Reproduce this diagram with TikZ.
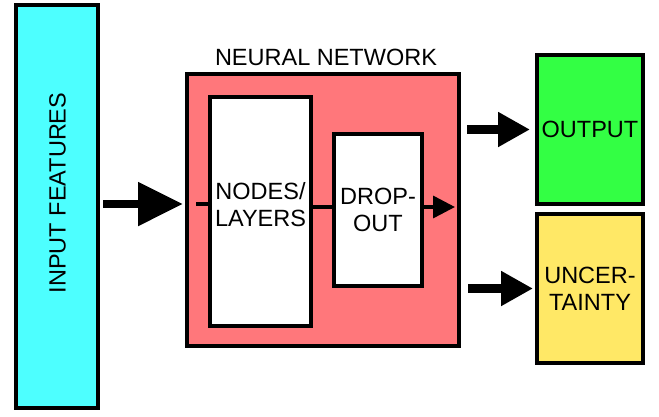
\documentclass[tikz,border=0pt]{standalone}
\usepackage{fontspec}
\setmainfont{Liberation Sans}
\usetikzlibrary{arrows.meta}
\definecolor{featcyan}{HTML}{4DFFFF}
\definecolor{netred}{HTML}{FF777B}
\definecolor{outgreen}{HTML}{33FF44}
\definecolor{uncyellow}{HTML}{FFE866}
\tikzset{block/.style = {draw, line width=4pt, rectangle, align=center, inner sep=0pt},
         txt/.style = {align=center, inner sep=0pt},
         fat/.style = {line width=8.5pt, -{Triangle[length=45pt,width=42pt]}},
         mid/.style = {line width=8.5pt, -{Triangle[length=32pt,width=33pt]}},
         link/.style = {line width=3.5pt}}

\begin{document}
\begin{tikzpicture}[x=1pt,y=-1pt,font=\fontsize{23.5}{27}\selectfont]
    \useasboundingbox (0,0) rectangle (659,416);
    \node[block, fill=featcyan, minimum width=82pt, minimum height=403pt](feat)at(57,206.5){};
    \node[txt, rotate=90](featlbl)at(57.5,193){INPUT FEATURES};
    \node[block, fill=netred, minimum width=272pt, minimum height=272pt](net)at(323,210){};
    \node[txt, anchor=base](netlbl)at(326,65){NEURAL NETWORK};
    \node[block, fill=white, minimum width=101pt, minimum height=229pt](lay)at(260.5,211.5){};
    \node[txt](laylbl)at(260.5,205){NODES/\\LAYERS};
    \node[block, fill=white, minimum width=88pt, minimum height=152pt](drop)at(378,210){DROP-\\OUT};
    \node[block, fill=outgreen, minimum width=106pt, minimum height=149pt](out)at(590,129.5){OUTPUT};
    \node[block, fill=uncyellow, minimum width=106pt, minimum height=149pt](unc)at(590,288.5){UNCER-\\TAINTY};
    \draw[fat, shorten <=3pt, shorten >=2pt](feat.east |- 0,204)--(net.west |- 0,204);
    \draw[link, shorten <=11pt](net.west |- 0,204)--(lay.west |- 0,204);
    \draw[link](lay.east |- 0,207)--(drop.west |- 0,207);
    \draw[link, -{Triangle[length=22pt,width=22pt]}, shorten >=6pt](drop.east |- 0,207)--(net.east |- 0,207);
    \draw[mid, shorten <=6pt, shorten >=5pt](net.east |- out)--(out.west);
    \draw[mid, shorten <=7pt, shorten >=2pt](net.east |- unc)--(unc.west);
\end{tikzpicture}
\end{document}
